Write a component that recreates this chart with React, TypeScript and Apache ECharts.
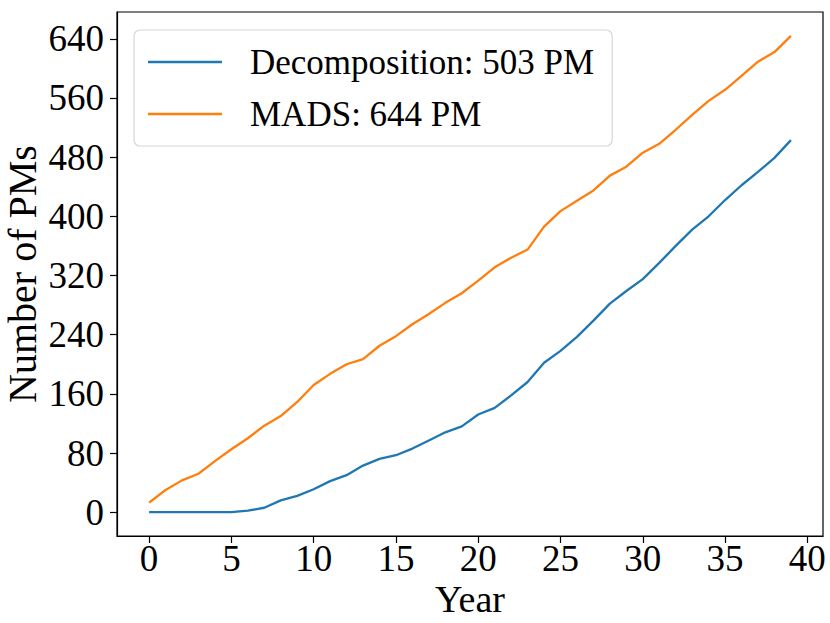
import React, { useEffect, useRef } from "react";
import * as echarts from "echarts";

const years = Array.from({ length: 40 }, (_, i) => i);
const decomposition = [0, 0, 0, 0, 0, 0, 2, 6, 16, 22, 31, 42, 50, 63, 72, 77, 86, 97, 108, 116, 132, 141, 158, 176, 202, 218, 237, 259, 282, 299, 315, 337, 360, 382, 400, 422, 442, 460, 479, 503];
const mads = [13, 30, 43, 52, 69, 85, 100, 117, 130, 149, 172, 187, 200, 207, 225, 238, 254, 268, 283, 296, 313, 331, 344, 355, 386, 407, 421, 435, 455, 467, 486, 498, 517, 537, 556, 571, 590, 609, 622, 644];
const xTicks = [0, 5, 10, 15, 20, 25, 30, 35, 40];
const yTicks = [0, 80, 160, 240, 320, 400, 480, 560, 640];
const seriesNames = ["Decomposition: 503 PM", "MADS: 644 PM"];

const FONT = "Liberation Serif";

export default function App() {
  const ref = useRef<HTMLDivElement>(null);
  useEffect(() => {
    if (!ref.current) return;
    const chart = echarts.init(ref.current, undefined, { renderer: "svg" });
    const xMin = -1.95, xMax = 40.95;
    const yMin = -32.2, yMax = 676.2;
    chart.setOption({
      animation: false,
      backgroundColor: "#fff",
      textStyle: { fontFamily: FONT, color: "#000" },
      grid: {
        left: 117, right: 7, top: 12, bottom: 87,
        containLabel: false,
        outerBoundsMode: "none",
        show: true, borderColor: "#000", borderWidth: 1.2, backgroundColor: "transparent",
      },
      legend: {
        orient: "vertical",
        left: 134, top: 30,
        padding: [12, 18, 12, 14],
        itemGap: 12,
        itemWidth: 74, itemHeight: 2.5,
        icon: "rect",
        borderColor: "#d6d6d6", borderWidth: 1.2, borderRadius: 6,
        backgroundColor: "rgba(255,255,255,0.8)",
        textStyle: { fontFamily: FONT, fontSize: 35, color: "#000", lineHeight: 40, padding: [0, 0, 0, 23] },
        data: seriesNames,
      },
      xAxis: {
        type: "value", min: xMin, max: xMax,
        name: "Year", nameLocation: "middle", nameGap: 44, nameMoveOverlap: false,
        nameTextStyle: { fontFamily: FONT, fontSize: 38, color: "#000" },
        axisLine: { show: true, onZero: false, lineStyle: { color: "#000", width: 1.2 } },
        axisTick: { show: true, inside: false, length: 7, lineStyle: { color: "#000", width: 1.2 }, customValues: xTicks },
        axisLabel: { fontFamily: FONT, fontSize: 37, color: "#000", margin: 4, customValues: xTicks, showMinLabel: true, showMaxLabel: true },
        splitLine: { show: false },
      },
      yAxis: {
        type: "value", min: yMin, max: yMax,
        name: "Number of PMs", nameLocation: "middle", nameGap: 75, nameMoveOverlap: false,
        nameTextStyle: { fontFamily: FONT, fontSize: 40, color: "#000" },
        axisLine: { show: true, onZero: false, lineStyle: { color: "#000", width: 1.2 } },
        axisTick: { show: true, inside: false, length: 7, lineStyle: { color: "#000", width: 1.2 }, customValues: yTicks },
        axisLabel: { fontFamily: FONT, fontSize: 37, color: "#000", margin: 13, customValues: yTicks },
        splitLine: { show: false },
      },
      series: [
        {
          name: seriesNames[0], type: "line", symbol: "none",
          data: years.map((y, i) => [y, decomposition[i]]),
          lineStyle: { color: "#1f77b4", width: 2.3 }, itemStyle: { color: "#1f77b4" },
        },
        {
          name: seriesNames[1], type: "line", symbol: "none",
          data: years.map((y, i) => [y, mads[i]]),
          lineStyle: { color: "#ff7f0e", width: 2.3 }, itemStyle: { color: "#ff7f0e" },
        },
      ],
    });
    return () => chart.dispose();
  }, []);
  return <div ref={ref} style={{ position: "absolute", left: 0, top: 0, width: 830, height: 623 }} />;
}
